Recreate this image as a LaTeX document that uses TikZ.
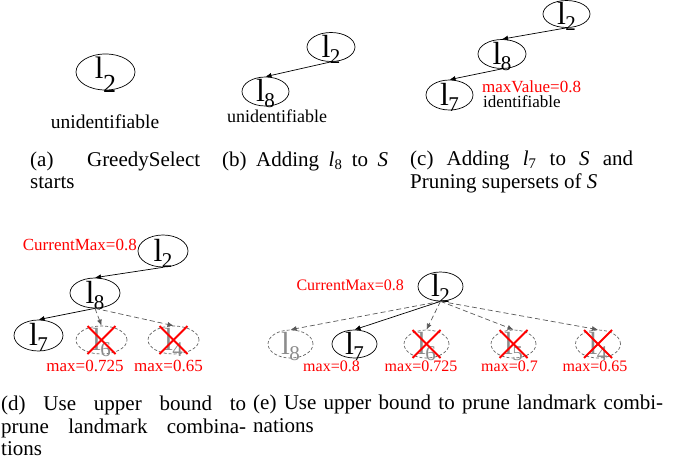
\documentclass[tikz,border=0pt]{standalone}
\usepackage{fontspec}
\setmainfont{Liberation Serif}
\usetikzlibrary{shapes.geometric,arrows.meta}
\newcommand\lb[1]{\raisebox{-10pt}[0pt][0pt]{\makebox[0pt]{\fontsize{32}{32}\selectfont l\kern-0.5pt\raisebox{-6pt}{\fontsize{21}{21}\selectfont #1}}}}
\newcommand\lbbig[1]{\raisebox{-6pt}[0pt][0pt]{\makebox[0pt]{\fontsize{31}{31}\selectfont l\kern-0.5pt\raisebox{-14pt}{\fontsize{26}{26}\selectfont #1}}}}
\newcommand\xout[1]{\draw[xx] ([shift={(-14,-14)}]#1.center) -- ([shift={(14,14)}]#1.center);
  \draw[xx] ([shift={(14,-14)}]#1.center) -- ([shift={(-14,14)}]#1.center);}
\begin{document}
\begin{tikzpicture}[x=1pt,y=-1pt,
 nd/.style={ellipse,draw,line width=0.7pt,inner sep=0pt,minimum width=48pt,minimum height=29pt},
 gnd/.style={nd,draw=black!60,dash pattern=on 3pt off 2pt,text=black!45},
 arr/.style={line width=0.7pt,-{Latex[length=6pt,width=5pt]}},
 darr/.style={arr,draw=black!65,dash pattern=on 5pt off 3pt},
 redt/.style={text=red,font=\fontsize{17}{17}\selectfont,inner sep=0pt},
 rede/.style={text=red,font=\fontsize{16}{16}\selectfont,inner sep=0pt},
 blk/.style={font=\fontsize{17}{17}\selectfont,inner sep=0pt},
 captxt/.style={font=\fontsize{21}{23}\selectfont,inner sep=0pt,anchor=base west},
 xx/.style={red,line width=2pt}
]
\useasboundingbox (0,0) rectangle (693,463);
% (a)
\node[nd,minimum width=59pt,minimum height=36pt] (A2) at (105.5,72) {\lbbig{2}};
\node[blk,font=\fontsize{19.5}{19.5}\selectfont] (Au) at (105,122) {unidentifiable};
\node[captxt] (Ca1) at (30,166) {\makebox[170pt][s]{(a) GreedySelect}};
\node[captxt] (Ca2) at (30,188) {starts};
% (b)
\node[nd] (B2) at (331,47) {\lb{2}};
\node[nd,minimum width=47pt] (B8) at (265.5,91.5) {\lb{8}};
\draw[arr] (B2.south) -- (B8.north);
\node[blk,font=\fontsize{18}{18}\selectfont] (Bu) at (277,116) {unidentifiable};
\node[captxt] (Cb1) at (222,166) {\makebox[166pt][s]{(b) Adding \textit{l}\textsubscript{8} to \textit{S}}};
% (c)
\node[nd,minimum width=47pt,minimum height=27pt] (C2) at (566.5,14) {\lb{2}};
\node[nd] (C8) at (502,54) {\lb{8}};
\node[nd,minimum width=47pt,minimum height=30pt] (C7) at (449.5,95) {\lb{7}};
\draw[arr] (C2.south) -- (C8.north);
\draw[arr] (C8.south) -- (C7.north);
\node[redt,anchor=west] (Cmv) at (482,87) {maxValue=0.8};
\node[blk,anchor=west] (Cid) at (483,102) {identifiable};
\node[captxt] (Cc1) at (410,165) {\makebox[223pt][s]{(c) Adding \textit{l}\textsubscript{7} to \textit{S} and}};
\node[captxt] (Cc2) at (410,188) {Pruning supersets of \textit{S}};
% (d)
\node[nd,minimum width=50pt,minimum height=32pt] (D2) at (163,251) {\lb{2}};
\node[redt,anchor=east] (Dcm) at (137,245) {CurrentMax=0.8};
\node[nd,minimum width=50pt,minimum height=30pt] (D8) at (95,293) {\lb{8}};
\node[nd,minimum width=49pt,minimum height=31pt] (D7) at (38.5,335.5) {\lb{7}};
\node[gnd,minimum width=51pt,minimum height=28pt] (D6) at (101.5,340) {\lb{6}};
\node[gnd,minimum width=51pt,minimum height=28pt] (D4) at (173.5,340) {\lb{4}};
\draw[arr] (D2.south) -- (D8.north);
\draw[arr] (D8.south) -- (D7.north);
\draw[darr] (D8.south) -- (D6.north);
\draw[darr] (D8.south) -- (D4.north);
\xout{D6}
\xout{D4}
\node[redt] (Dm6) at (85,366) {max=0.725};
\node[redt] (Dm4) at (168.5,366) {max=0.65};
\node[captxt] (Cd1) at (1,410) {\makebox[245pt][s]{(d) Use upper bound to}};
\node[captxt] (Cd2) at (1,433) {\makebox[245pt][s]{prune landmark combina-}};
\node[captxt] (Cd3) at (1,455) {tions};
% (e)
\node[nd,minimum width=45pt,minimum height=29pt] (E2) at (440.5,286.5) {\lb{2}};
\node[rede,anchor=east] (Ecm) at (404,285) {CurrentMax=0.8};
\node[gnd,minimum width=45pt,minimum height=28pt] (E8) at (290.5,344) {\lb{8}};
\node[nd,minimum width=45pt,minimum height=28pt] (E7) at (354.5,344) {\lb{7}};
\node[gnd,minimum width=45pt,minimum height=28pt] (E6) at (426.5,344) {\lb{6}};
\node[gnd,minimum width=45pt,minimum height=28pt] (E5) at (513.5,344) {\lb{5}};
\node[gnd,minimum width=45pt,minimum height=28pt] (E4) at (598,344) {\lb{4}};
\draw[darr] (E2.south) -- (E8.north);
\draw[arr] (E2.south) -- (E7.north);
\draw[darr] (E2.south) -- (E6.north);
\draw[darr] (E2.south) -- (E5.north);
\draw[darr] (E2.south) -- (E4.north);
\xout{E6}
\xout{E5}
\xout{E4}
\node[rede] (Em7) at (331.5,366) {max=0.8};
\node[rede] (Em6) at (421,366) {max=0.725};
\node[rede] (Em5) at (509.5,366) {max=0.7};
\node[rede] (Em4) at (595,366) {max=0.65};
\node[captxt] (Ce1) at (253,409) {\makebox[410pt][s]{(e) Use upper bound to prune landmark combi-}};
\node[captxt] (Ce2) at (253,432) {nations};
\end{tikzpicture}
\end{document}
